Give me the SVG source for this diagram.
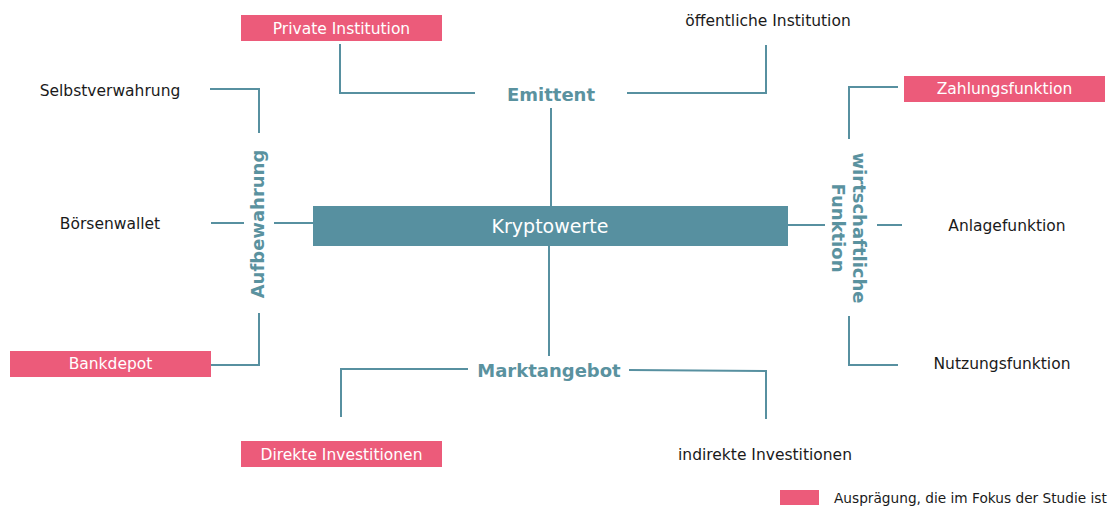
<svg xmlns="http://www.w3.org/2000/svg" width="1110" height="509" viewBox="0 0 1110 509">
<style>
.ln{fill:none;stroke:#5790A0;stroke-width:2}
.pk{fill:#EC5B7A}
.pt{font-family:"DejaVu Sans",Verdana,sans-serif;font-size:15.5px;fill:#FFFFFF;text-anchor:middle}
.bt{font-family:"DejaVu Sans",Verdana,sans-serif;font-size:15.5px;fill:#1A1A1A;text-anchor:middle}
.hd{font-family:"DejaVu Sans",Verdana,sans-serif;font-size:18px;font-weight:bold;fill:#5A929F;text-anchor:middle}
</style>
<rect width="1110" height="509" fill="#FFFFFF"/>
<g id="connectors">
<polyline class="ln" points="340,44 340,93 475,93"/>
<polyline class="ln" points="627,93 766,93 766,45"/>
<line class="ln" x1="551" y1="108" x2="551" y2="206"/>
<polyline class="ln" points="210,89 259,89 259,133"/>
<line class="ln" x1="211" y1="223" x2="244" y2="223"/>
<line class="ln" x1="274" y1="223" x2="313" y2="223"/>
<polyline class="ln" points="259,313 259,365 211,365"/>
<polyline class="ln" points="898,87 849,87 849,139"/>
<line class="ln" x1="788" y1="225" x2="825" y2="225"/>
<line class="ln" x1="877" y1="225" x2="902" y2="225"/>
<polyline class="ln" points="849,316 849,365 898,365"/>
<line class="ln" x1="549" y1="246" x2="549" y2="356"/>
<polyline class="ln" points="468,369 341,369 341,417"/>
<polyline class="ln" points="629,370 766,371 766,419"/>
</g>
<g id="kryptowerte">
<rect x="313" y="206" width="475" height="40" fill="#5790A0"/>
<text x="550" y="233" font-family="DejaVu Sans, Verdana, sans-serif" font-size="19" fill="#FFFFFF" text-anchor="middle">Kryptowerte</text>
</g>
<g id="emittent"><text class="hd" x="551" y="101">Emittent</text></g>
<g id="marktangebot"><text class="hd" x="549" y="377">Marktangebot</text></g>
<g id="aufbewahrung"><text class="hd" transform="translate(259,224) rotate(-90)" x="0" y="5">Aufbewahrung</text></g>
<g id="wirtschaftliche-funktion">
<text class="hd" transform="translate(849,228) rotate(90)"><tspan x="0" y="-4">wirtschaftliche</tspan><tspan x="0" y="17">Funktion</tspan></text>
</g>
<g id="private-institution">
<rect class="pk" x="241" y="15" width="201" height="26"/>
<text class="pt" x="341.5" y="34">Private Institution</text>
</g>
<g id="oeffentliche-institution"><text class="bt" x="768" y="26">öffentliche Institution</text></g>
<g id="zahlungsfunktion">
<rect class="pk" x="904" y="76" width="201" height="26"/>
<text class="pt" x="1004.5" y="94">Zahlungsfunktion</text>
</g>
<g id="anlagefunktion"><text class="bt" x="1007" y="231">Anlagefunktion</text></g>
<g id="nutzungsfunktion"><text class="bt" x="1002" y="369">Nutzungsfunktion</text></g>
<g id="selbstverwahrung"><text class="bt" x="110" y="96">Selbstverwahrung</text></g>
<g id="boersenwallet"><text class="bt" x="110" y="229">Börsenwallet</text></g>
<g id="bankdepot">
<rect class="pk" x="10" y="351" width="201" height="26"/>
<text class="pt" x="110.5" y="369">Bankdepot</text>
</g>
<g id="direkte-investitionen">
<rect class="pk" x="241" y="441" width="201" height="26"/>
<text class="pt" x="341.5" y="460">Direkte Investitionen</text>
</g>
<g id="indirekte-investitionen"><text class="bt" x="765" y="460">indirekte Investitionen</text></g>
<g id="legend">
<rect class="pk" x="780" y="490" width="39" height="15"/>
<text x="834" y="503" font-family="DejaVu Sans, Verdana, sans-serif" font-size="13.7" fill="#1A1A1A">Ausprägung, die im Fokus der Studie ist</text>
</g>
</svg>
